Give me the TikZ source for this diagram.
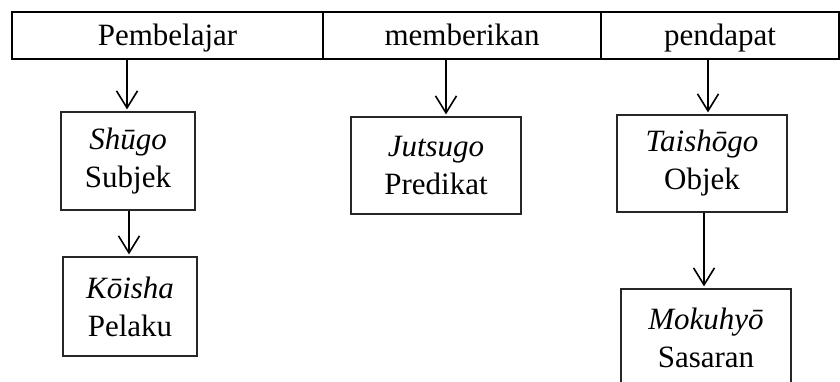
\documentclass[tikz,border=0pt]{standalone}
\usepackage{fontspec}
\setmainfont{Liberation Serif}
\usetikzlibrary{arrows.meta}
\begin{document}
\begin{tikzpicture}[x=1pt,y=-1pt,
  cell/.style={draw, line width=2pt, minimum height=47pt, inner sep=0pt,
    font=\fontsize{31}{38}\selectfont, text height=26pt, text depth=7pt},
  role/.style={draw=black!85, line width=1.2pt, align=center, inner sep=0pt,
    font=\fontsize{31}{38}\selectfont},
  arr/.style={line width=1.6pt, shorten >=2pt,
    -{Straight Barb[length=17pt,width=21pt,line width=1.6pt]}}
]
\clip (0,0) rectangle (840,381);
% sentence row
\node[cell, minimum width=311pt] (c1) at (167.5,35.5) {Pembelajar};
\node[cell, minimum width=278pt] (c2) at (462,35.5) {memberikan};
\node[cell, minimum width=238pt] (c3) at (720,35.5) {pendapat};
% grammatical roles
\node[role, minimum width=134pt, minimum height=98pt] (shugo) at (128,161) {\itshape Shūgo\\Subjek};
\node[role, minimum width=134pt, minimum height=99pt] (koisha) at (130,306.5) {\itshape Kōisha\\Pelaku};
\node[role, minimum width=170pt, minimum height=97pt] (jutsugo) at (436,165.5) {\itshape Jutsugo\\Predikat};
\node[role, minimum width=170pt, minimum height=97pt] (taisho) at (702,163.5) {\itshape Taishōgo\\Objek};
\node[role, minimum width=170pt, minimum height=98pt] (mokuhyo) at (706,338) {\itshape Mokuhyō\\Sasaran};
% links
\draw[arr] ([xshift=-1pt]shugo.north |- c1.south) -- ([xshift=-1pt]shugo.north);
\draw[arr] ([xshift=1pt]shugo.south) -- ([xshift=1pt]shugo.south |- koisha.north);
\draw[arr] ([xshift=10pt]jutsugo.north |- c2.south) -- ([xshift=10pt]jutsugo.north);
\draw[arr] ([xshift=6pt]taisho.north |- c3.south) -- ([xshift=6pt]taisho.north);
\draw[arr] ([xshift=2pt]taisho.south) -- ([xshift=2pt]taisho.south |- mokuhyo.north);
\end{tikzpicture}
\end{document}
